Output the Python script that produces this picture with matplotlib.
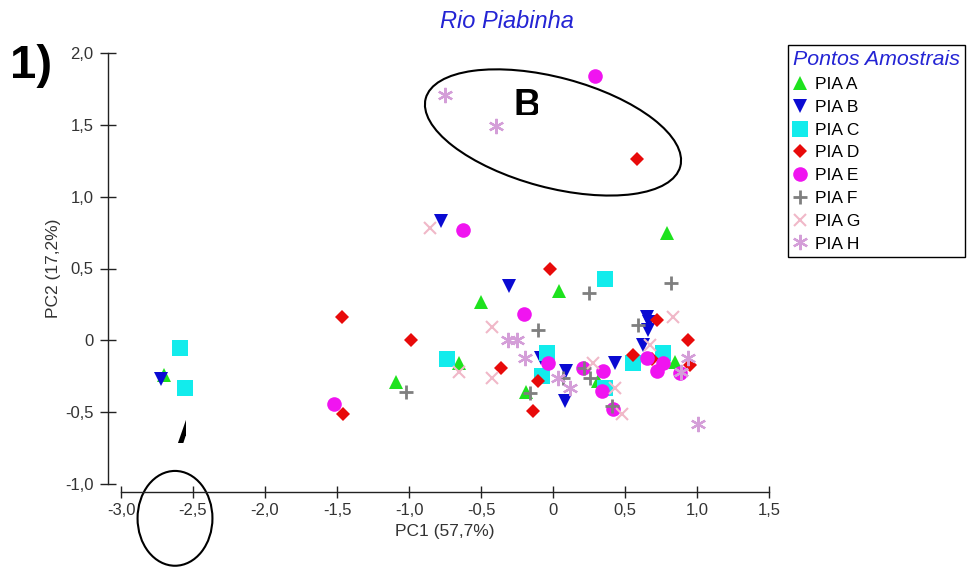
import matplotlib
matplotlib.use("Agg")
import matplotlib.pyplot as plt
from matplotlib.lines import Line2D
from matplotlib.patches import Ellipse
from matplotlib.ticker import FuncFormatter, MultipleLocator
from matplotlib.transforms import Bbox, TransformedBbox

plt.rcParams["font.family"] = ["Liberation Sans", "DejaVu Sans"]

# scores por ponto amostral (PC1, PC2)
pia_a_x = [-2.70, 0.79, -0.50, 0.04, -0.65, -1.09, -0.19, 0.31, 0.85]
pia_a_y = [-0.24, 0.745, 0.265, 0.34, -0.16, -0.29, -0.36, -0.28, -0.15]
pia_b_x = [-2.72, -0.78, -0.305, -0.08, 0.09, 0.08, 0.43, 0.65, 0.67, 0.66, 0.625]
pia_b_y = [-0.27, 0.83, 0.375, -0.125, -0.21, -0.42, -0.155, 0.165, 0.125, 0.07, -0.03]
pia_c_x = [-2.59, -2.555, -0.735, 0.36, -0.04, -0.075, 0.36, 0.555, 0.765]
pia_c_y = [-0.05, -0.335, -0.13, 0.43, -0.085, -0.245, -0.33, -0.155, -0.09]
pia_d_x = [-1.465, -1.46, -0.985, -0.02, -0.36, -0.105, -0.14, 0.72, 0.94, 0.69, 0.95, 0.585, 0.555]
pia_d_y = [0.16, -0.515, 0.005, 0.495, -0.195, -0.28, -0.495, 0.145, 0.0, -0.13, -0.175, 1.265, -0.10]
pia_e_x = [-0.625, -0.20, -1.52, -0.035, 0.21, 0.35, 0.34, 0.415, 0.65, 0.765, 0.72, 0.88, 0.29]
pia_e_y = [0.765, 0.18, -0.445, -0.16, -0.195, -0.21, -0.35, -0.48, -0.12, -0.155, -0.21, -0.23, 1.84]
pia_f_x = [-1.02, -0.105, 0.25, 0.82, 0.59, 0.215, 0.07, 0.255, -0.16, 0.41]
pia_f_y = [-0.36, 0.075, 0.33, 0.40, 0.105, -0.195, -0.26, -0.265, -0.37, -0.455]
pia_g_x = [-0.855, -0.425, -0.655, -0.425, 0.28, 0.43, 0.48, 0.835, 0.675]
pia_g_y = [0.785, 0.09, -0.22, -0.26, -0.155, -0.335, -0.515, 0.165, -0.035]
pia_h_x = [-0.75, -0.395, -0.31, -0.25, -0.195, 0.035, 0.12, 0.94, 1.005, 0.89]
pia_h_y = [1.705, 1.495, 0.0, 0.0, -0.12, -0.265, -0.335, -0.12, -0.58, -0.22]

labels = ["PIA A", "PIA B", "PIA C", "PIA D", "PIA E", "PIA F", "PIA G", "PIA H"]
xs = [pia_a_x, pia_b_x, pia_c_x, pia_d_x, pia_e_x, pia_f_x, pia_g_x, pia_h_x]
ys = [pia_a_y, pia_b_y, pia_c_y, pia_d_y, pia_e_y, pia_f_y, pia_g_y, pia_h_y]

# estilo de cada grupo: marcador, tamanho, cor, largura da linha
styles = [
    dict(marker="^", ms=10, color="#1ee21e", mew=0),
    dict(marker="v", ms=10, color="#0a0ad2", mew=0),
    dict(marker="s", ms=11, color="#12ecec", mew=0),
    dict(marker="D", ms=7.2, color="#e80a0a", mew=0),
    dict(marker="o", ms=10.5, color="#f014f0", mew=0),
    dict(marker="+", ms=10.5, color="#7f7f7f", mew=2),
    dict(marker="x", ms=8, color="#f0b8c8", mew=1.5),
    dict(marker=(6, 2, 0), ms=11, color="#d49ed8", mew=1.6),
]

W, H = 969, 567
fig = plt.figure(figsize=(W / 100, H / 100), dpi=100)
ax = fig.add_axes([121 / W, 83 / H, 648 / W, 431 / H])

handles = []
for x, y, lab, st in zip(xs, ys, labels, styles):
    ax.plot(x, y, linestyle="none", marker=st["marker"], markersize=st["ms"],
            color=st["color"], markeredgewidth=st["mew"], clip_on=False)
    handles.append(Line2D([], [], linestyle="none", marker=st["marker"],
                          markersize=st["ms"], color=st["color"],
                          markeredgewidth=st["mew"], label=lab))

ax.set_xlim(-3.0, 1.5)
ax.set_ylim(-1.0, 2.0)
ax.xaxis.set_major_locator(MultipleLocator(0.5))
ax.yaxis.set_major_locator(MultipleLocator(0.5))
fmt = FuncFormatter(lambda v, p: "0" if abs(v) < 1e-9 else f"{v:.1f}".replace(".", ","))
ax.xaxis.set_major_formatter(fmt)
ax.yaxis.set_major_formatter(fmt)

for s in ("top", "right"):
    ax.spines[s].set_visible(False)
ax.spines["left"].set_position(("outward", 9.4))
ax.spines["bottom"].set_position(("outward", 5.8))
for s in ("left", "bottom"):
    ax.spines[s].set_color("#222222")
    ax.spines[s].set_linewidth(1.0)
ax.tick_params(axis="y", direction="inout", length=11, width=1, color="#222222",
               labelsize=12, labelcolor="#333333", pad=5)
ax.tick_params(axis="x", direction="inout", length=8, width=1, color="#222222",
               labelsize=12, labelcolor="#333333", pad=4)
ax.set_xlabel("PC1 (57,7%)", fontsize=12.5, color="#333333", labelpad=4)
ax.set_ylabel("PC2 (17,2%)", fontsize=12.5, color="#333333", labelpad=3)

# elipses de agrupamento
ax.add_patch(Ellipse((0.0, 1.447), 1.83, 0.766, angle=-15, fill=False,
                     edgecolor="black", lw=1.5, clip_on=False))
ax.add_patch(Ellipse((-2.625, -1.239), 0.52, 0.66, fill=False,
                     edgecolor="black", lw=1.5, clip_on=False))


def clip_text(x, y, s, box):
    t = fig.text(x / W, 1 - y / H, s, fontsize=27, fontweight="bold", va="baseline")
    x0, y0, x1, y1 = box
    t.set_clip_box(TransformedBbox(Bbox.from_extents(x0 / W, 1 - y1 / H, x1 / W, 1 - y0 / H),
                                   fig.transFigure))
    return t


clip_text(513, 116, "B", (510, 86, 538, 115))
clip_text(176, 443, "A", (170, 418, 186, 443))

fig.text(507 / W, 1 - 21 / H, "Rio Piabinha", fontsize=17, style="italic",
         color="#2424d4", ha="center", va="center")
fig.text(10 / W, 1 - 78 / H, "1)", fontsize=34, fontweight="bold", va="baseline")

leg = fig.legend(handles=handles, loc="upper left", bbox_to_anchor=(788 / W, 1 - 45 / H),
                 borderaxespad=0, fontsize=12.5, title="Pontos Amostrais",
                 title_fontproperties={"size": 15.4, "style": "italic"},
                 fancybox=False, framealpha=1, edgecolor="black",
                 handlelength=0.8, handletextpad=0.45, labelspacing=0.44,
                 borderpad=0.3, alignment="left")
leg.get_title().set_color("#2424d4")
leg.get_frame().set_linewidth(1.0)

fig.savefig("out.png", dpi=100)
